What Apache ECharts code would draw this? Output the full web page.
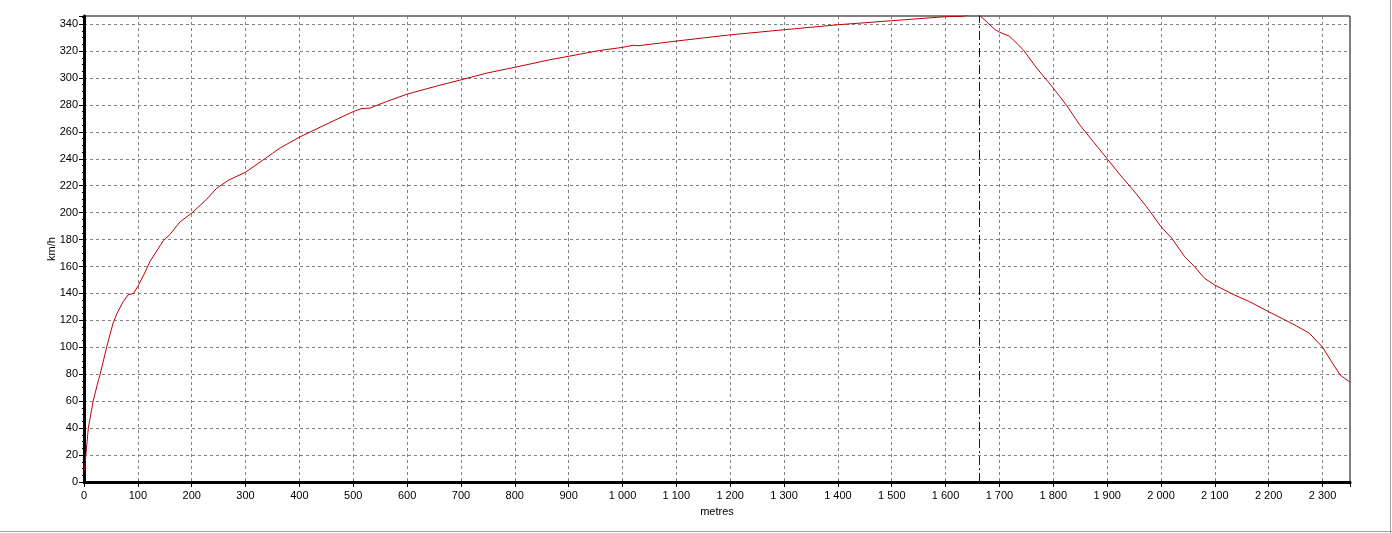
<!DOCTYPE html>
<html>
<head>
<meta charset="utf-8">
<script src="https://cdn.jsdelivr.net/npm/echarts@6/dist/echarts.min.js"></script>
<style>
html,body{margin:0;padding:0;background:#fff;}
#chart{width:1392px;height:533px;}
</style>
</head>
<body>
<div id="chart"></div>
<script>
// Distance (metres) and speed (km/h)
const distances = [1, 3.5, 8, 17, 27, 30, 42, 54, 61, 73, 82, 92, 101, 110, 123, 147, 160, 178, 201, 228, 246, 268, 300, 350,
  364, 400, 457, 500, 516, 531, 562, 600, 655, 701, 748, 801, 865, 958, 1000, 1020, 1029, 1100, 1200, 1300, 1400, 1500,
  1600, 1630, 1645, 1655, 1664, 1692, 1700, 1719, 1744, 1769, 1800, 1825, 1849, 1874, 1900, 1924, 1948, 1973, 2000,
  2020, 2044, 2062, 2081, 2100, 2134, 2165, 2200, 2227, 2252, 2276, 2300, 2317, 2333, 2350];
const speeds = [9, 20, 40, 60, 76, 80, 100, 118, 125, 134, 139, 140, 146, 153, 164, 179, 184, 193, 200, 210, 218, 224, 230, 244,
  248, 256, 267, 275, 277.3, 277.6, 282.5, 288, 294, 298.7, 303.6, 308, 313.5, 320.4, 322.7, 324.3, 323.9, 327.4, 332, 335.8, 339.5, 342.5,
  345.5, 345.7, 347, 347.5, 346.2, 335.8, 334, 330.9, 321, 307.4, 292.5, 279.5, 265.2, 252.8, 240, 228, 216.9, 204.5, 189.6,
  181, 167.3, 160, 151.2, 146.2, 139.3, 133.8, 126.4, 121, 115.8, 110.3, 100.1, 89.2, 79.3, 74.4];
const markerDistance = 1662;
const xAxisName = 'metres';
const yAxisName = 'km/h';

const seriesData = distances.map((d, i) => [d, speeds[i]]);
const fmtThousands = v => String(v).replace(/\B(?=(\d{3})+(?!\d))/g, ' ');
const FONT = 'Liberation Sans, Arial, sans-serif';

const chart = echarts.init(document.getElementById('chart'), null, {renderer: 'canvas'});
chart.setOption({
  backgroundColor: '#ffffff',
  animation: false,
  grid: {left: 84, right: 42, top: 16, bottom: 51, show: true, borderColor: '#000', borderWidth: 1, backgroundColor: 'transparent'},
  xAxis: {
    type: 'value', min: 0, max: 2351, interval: 100,
    name: xAxisName, nameLocation: 'middle', nameGap: 24,
    nameTextStyle: {color: '#000', fontSize: 11, fontFamily: FONT},
    axisLine: {show: true, onZero: false, lineStyle: {color: '#000', width: 3}},
    axisTick: {show: true, length: 5, lineStyle: {color: '#000', width: 1}},
    minorTick: {show: true, splitNumber: 4, length: 2, lineStyle: {color: '#000', width: 1}},
    axisLabel: {color: '#000', fontSize: 11, fontFamily: FONT, margin: 8, showMaxLabel: false, formatter: fmtThousands},
    splitLine: {show: true, lineStyle: {color: '#808080', type: [3, 3], width: 1}}
  },
  yAxis: {
    type: 'value', min: 0, max: 346, interval: 20,
    name: yAxisName, nameLocation: 'middle', nameGap: 27, nameRotate: 90, nameMoveOverlap: false,
    nameTextStyle: {color: '#000', fontSize: 11, fontFamily: FONT},
    axisLine: {show: true, onZero: false, lineStyle: {color: '#000', width: 3}},
    axisTick: {show: true, length: 5, lineStyle: {color: '#000', width: 1}},
    minorTick: {show: true, splitNumber: 4, length: 2, lineStyle: {color: '#000', width: 1}},
    axisLabel: {color: '#000', fontSize: 11, fontFamily: FONT, margin: 6, showMaxLabel: false},
    splitLine: {show: true, lineStyle: {color: '#808080', type: [3, 3], width: 1}}
  },
  series: [{
    type: 'line',
    data: seriesData,
    showSymbol: false,
    clip: true,
    lineStyle: {color: '#c00000', width: 1},
    itemStyle: {color: '#c00000'},
    markLine: {
      silent: true,
      symbol: 'none',
      label: {show: false},
      lineStyle: {color: '#5a0000', width: 1, type: [9, 3, 2, 3]},
      data: [{xAxis: markerDistance}]
    }
  }],
  graphic: [
    {type: 'line', shape: {x1: 0, y1: 531.5, x2: 1392, y2: 531.5}, style: {stroke: '#a0a0a0', lineWidth: 1}},
    {type: 'line', shape: {x1: 1390.5, y1: 0, x2: 1390.5, y2: 533}, style: {stroke: '#a0a0a0', lineWidth: 1}}
  ]
});
</script>
</body>
</html>
